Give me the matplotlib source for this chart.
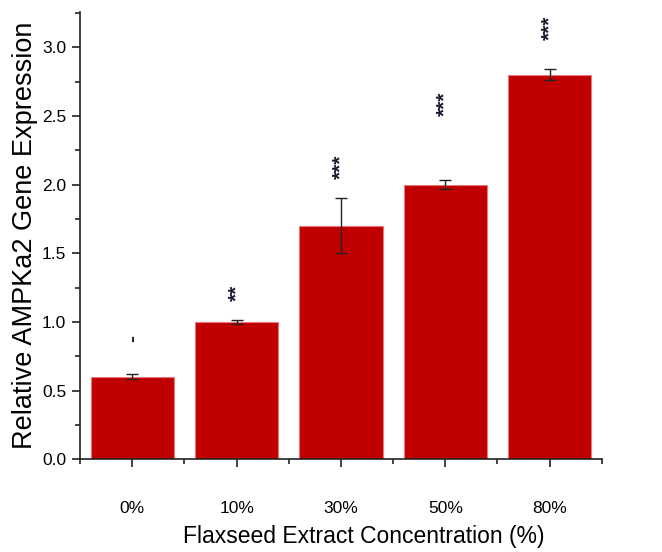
import matplotlib
matplotlib.use('Agg')
import matplotlib.pyplot as plt
from matplotlib.ticker import MultipleLocator
import numpy as np

plt.rcParams['font.family'] = ['Liberation Sans', 'DejaVu Sans']

# data
conc = ['0%', '10%', '30%', '50%', '80%']
expr = [0.60, 1.00, 1.70, 2.00, 2.80]
err = [0.018, 0.012, 0.20, 0.03, 0.038]
signif = ['-', '**', '***', '***', '***']
signif_y = [0.88, 1.21, 2.13, 2.59, 3.14]

fig = plt.figure(figsize=(6.62, 5.52), dpi=100)
ax = fig.add_axes([0.121, 0.168, 0.788, 0.81])

x = np.arange(len(conc))
ax.bar(x, expr, width=0.8, color='#c00000', edgecolor='#e87a7a', linewidth=0.8, zorder=2)
ax.errorbar(x, expr, yerr=err, fmt='none', ecolor='#222222', elinewidth=1.0,
            capsize=4, capthick=1.0, zorder=3)

for xi, s, sy in zip(x, signif, signif_y):
    ax.text(xi, sy, s, rotation=90, ha='center', va='center', fontsize=15,
            fontweight='bold', color='#1a1a2e')

ax.set_xlim(-0.5, 4.5)
ax.set_ylim(0, 3.255)
ax.set_xticks(x)
ax.set_xticklabels(conc)
ax.xaxis.set_minor_locator(MultipleLocator(1, offset=0.5))
ax.yaxis.set_major_locator(MultipleLocator(0.5))
ax.yaxis.set_minor_locator(MultipleLocator(0.25))
ax.yaxis.set_major_formatter(matplotlib.ticker.FormatStrFormatter('%.1f'))

for side in ['top', 'right']:
    ax.spines[side].set_visible(False)
for side in ['left', 'bottom']:
    ax.spines[side].set_linewidth(1.2)
    ax.spines[side].set_color('#222222')

ax.tick_params(axis='both', which='major', direction='out', length=6, width=1.2,
               colors='#222222', labelsize=12.5, labelcolor='black')
ax.tick_params(axis='both', which='minor', direction='out', length=3.5, width=1.2, colors='#222222')
ax.tick_params(axis='x', which='major', pad=24)
ax.tick_params(axis='y', which='major', pad=4)

ax.set_xlabel('Flaxseed Extract Concentration (%)', fontsize=16.5)
ax.xaxis.set_label_coords(0.544, -0.148)
ax.set_ylabel('Relative AMPKa2 Gene Expression', fontsize=19.5, labelpad=3)

fig.savefig('out.png', dpi=100)
